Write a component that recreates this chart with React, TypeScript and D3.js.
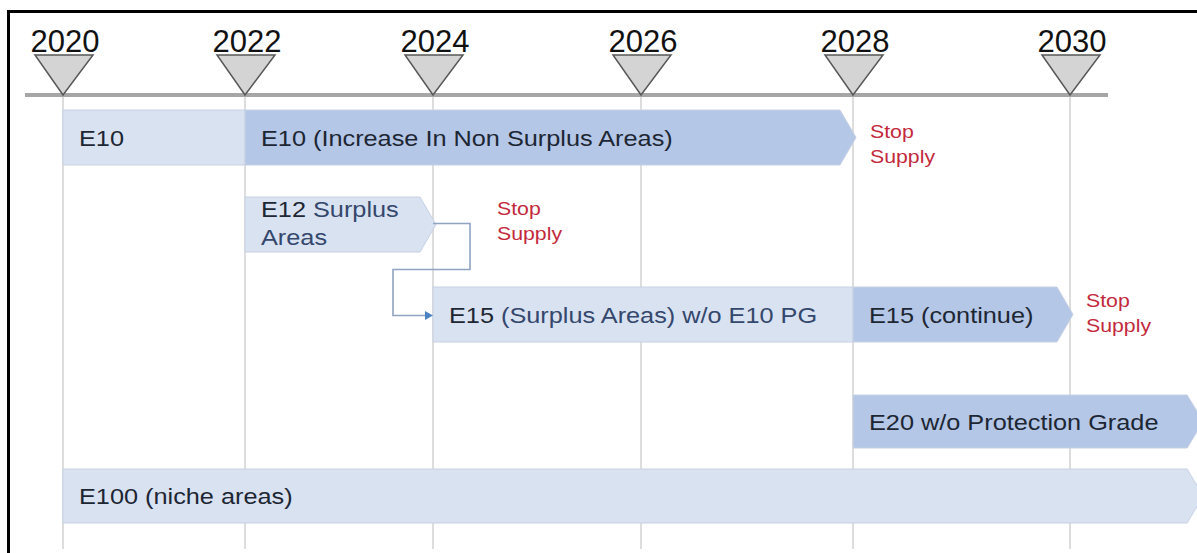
import * as d3 from 'd3';

// timeline years (axis markers)
const years = [2020, 2022, 2024, 2026, 2028, 2030];

// bars: one entry per coloured block
const barLines = [
  ['E10'],
  ['E10 (Increase In Non Surplus Areas)'],
  ['E12 Surplus', 'Areas'],
  ['E15 (Surplus Areas) w/o E10 PG'],
  ['E15 (continue)'],
  ['E20 w/o Protection Grade'],
  ['E100 (niche areas)'],
];
const barStart = [2020, 2022, 2022, 2024, 2028, 2028, 2020];
const barEnd = [2022, 2028, 2024, 2028, 2030, 2031.2, 2031.2];
const barRow = [0, 0, 1, 2, 2, 3, 4];
const barTone = ['light', 'dark', 'light', 'light', 'dark', 'dark', 'light'];
const barArrow = [false, true, true, false, true, true, true];
const barAccent = [false, false, true, true, false, false, false];

// "Stop Supply" notes
const stopText = ['Stop', 'Supply'];
const stopYear = [2028, 2024, 2030];
const stopRow = [0, 1, 2];

// layout
const W = 1197;
const H = 553;
const TICK_X = [63, 245, 433, 641, 853, 1070];
const ROW_TOP = [110, 197, 287, 395, 469];
const ROW_H = [55, 55, 55, 53, 54];
const AXIS_Y = 95;
const TRI_TOP = 55;
const TRI_HALF = 29;
const STOP_DX = [17, 64, 16];
const STOP_DY = [28, 18, 20];
const SX = 1.15;
const FONT = '"Liberation Sans", Arial, sans-serif';

const COLORS = {
  light: '#d9e2f1',
  dark: '#b4c7e7',
  barStroke: '#c7d1e2',
  text: '#1d2633',
  accent: '#34476c',
  stop: '#c3283b',
  grid: '#d2d2d2',
  axis: '#a6a6a6',
  tri: '#d4d4d4',
  triStroke: '#575757',
  connector: '#8fa3c2',
  arrow: '#4a82c4',
};

export default function App() {
  const x = d3.scaleLinear().domain(years).range(TICK_X);
  const rowTop = d3.scaleOrdinal<number, number>().domain(d3.range(ROW_TOP.length)).range(ROW_TOP);
  const rowH = d3.scaleOrdinal<number, number>().domain(d3.range(ROW_H.length)).range(ROW_H);

  const barPath = (i: number) => {
    const x0 = x(barStart[i]);
    const top = rowTop(barRow[i]);
    const h = rowH(barRow[i]);
    const p = d3.path();
    if (barArrow[i]) {
      const tip = x(barEnd[i]) + 3;
      const flat = tip - 16;
      p.moveTo(x0, top);
      p.lineTo(flat, top);
      p.lineTo(tip, top + h / 2);
      p.lineTo(flat, top + h);
      p.lineTo(x0, top + h);
    } else {
      const x1 = x(barEnd[i]);
      p.rect(x0, top, x1 - x0, h);
    }
    p.closePath();
    return p.toString();
  };

  // connector from E12 tip down into E15 start
  const cx = x(2024);
  const m2 = rowTop(1) + rowH(1) / 2 - 1;
  const m3 = rowTop(2) + rowH(2) / 2 + 1;
  const mid = (rowTop(1) + rowH(1) + rowTop(2)) / 2;
  const conn = d3.path();
  conn.moveTo(cx, m2);
  conn.lineTo(cx + 37, m2);
  conn.lineTo(cx + 37, mid);
  conn.lineTo(cx - 40, mid);
  conn.lineTo(cx - 40, m3);
  conn.lineTo(cx - 7, m3);

  const labelY = (i: number, line: number, n: number) => {
    const top = rowTop(barRow[i]);
    const h = rowH(barRow[i]);
    if (n === 1) return top + h / 2 + 8;
    return top + 20 + line * 28;
  };

  return (
    <svg
      width={W}
      height={H}
      style={{ position: 'absolute', left: 0, top: 0, display: 'block', background: '#fff' }}
      fontFamily={FONT}
    >
      {/* frame */}
      <path d={`M8.5,${H} L8.5,11.5 L${W},11.5`} fill="none" stroke="#000" strokeWidth={3} />

      {/* gridlines */}
      {years.map(y => (
        <line key={`g${y}`} x1={x(y)} x2={x(y)} y1={AXIS_Y} y2={549} stroke={COLORS.grid} strokeWidth={1.5} />
      ))}

      {/* axis */}
      <line x1={25} x2={1108} y1={AXIS_Y} y2={AXIS_Y} stroke={COLORS.axis} strokeWidth={4} />
      {years.map(y => (
        <g key={`t${y}`}>
          <path
            d={`M${x(y) - TRI_HALF + 1},${TRI_TOP} L${x(y) + TRI_HALF + 1},${TRI_TOP} L${x(y)},${AXIS_Y} Z`}
            fill={COLORS.tri}
            stroke={COLORS.triStroke}
            strokeWidth={1.5}
            strokeLinejoin="miter"
          />
          <text x={x(y) + 2} y={51.5} textAnchor="middle" fontSize={31} fill="#111">
            {y}
          </text>
        </g>
      ))}

      {/* bars */}
      {barLines.map((lines, i) => (
        <path
          key={`b${i}`}
          d={barPath(i)}
          fill={barTone[i] === 'dark' ? COLORS.dark : COLORS.light}
          stroke={COLORS.barStroke}
          strokeWidth={1}
        />
      ))}

      {/* connector */}
      <path d={conn.toString()} fill="none" stroke={COLORS.connector} strokeWidth={1.6} />
      <path d={`M${cx - 8},${m3 - 4.5} L${cx},${m3} L${cx - 8},${m3 + 4.5} Z`} fill={COLORS.arrow} />

      {/* bar labels */}
      {barLines.map((lines, i) =>
        lines.map((line, li) => {
          const tx = x(barStart[i]) + 16;
          const ty = labelY(i, li, lines.length);
          const sp = line.indexOf(' ');
          return (
            <text
              key={`l${i}-${li}`}
              transform={`translate(${tx},${ty}) scale(${SX},1)`}
              fontSize={22}
              fill={COLORS.text}
            >
              {barAccent[i] && li === 0 && sp > 0 ? (
                <>
                  <tspan>{line.slice(0, sp)}</tspan>
                  <tspan fill={COLORS.accent}>{line.slice(sp)}</tspan>
                </>
              ) : barAccent[i] ? (
                <tspan fill={COLORS.accent}>{line}</tspan>
              ) : (
                line
              )}
            </text>
          );
        })
      )}

      {/* stop supply notes */}
      {stopYear.map((y, i) =>
        stopText.map((t, li) => (
          <text
            key={`s${i}-${li}`}
            transform={`translate(${x(y) + STOP_DX[i]},${rowTop(stopRow[i]) + STOP_DY[i] + li * 25}) scale(${SX},1)`}
            fontSize={18.5}
            fill={COLORS.stop}
          >
            {t}
          </text>
        ))
      )}
    </svg>
  );
}
